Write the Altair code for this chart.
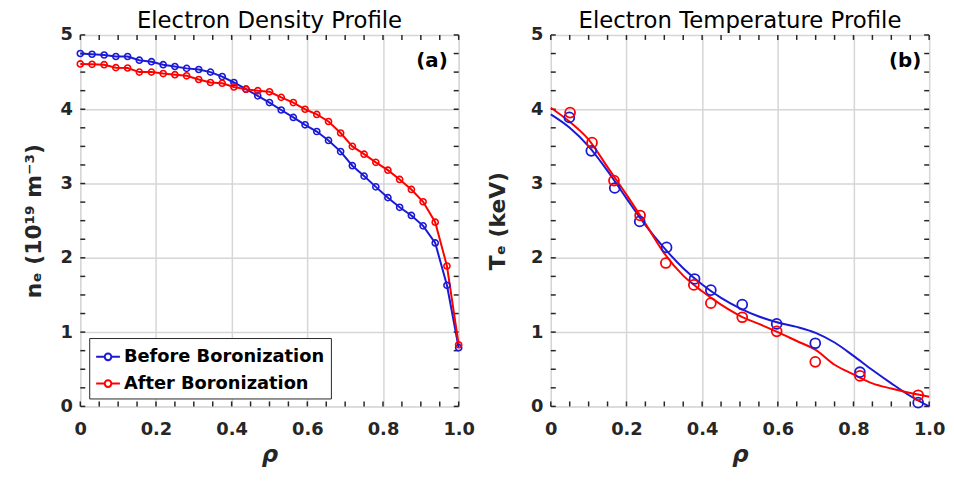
import altair as alt
import pandas as pd

# ---------------- data ----------------
SERIES = ["Before Boronization", "After Boronization"]

# (a) electron density profile, 33 radial points
RHO_N = [0.000, 0.031, 0.063, 0.094, 0.125, 0.156, 0.188, 0.219, 0.250, 0.281,
         0.313, 0.344, 0.375, 0.406, 0.438, 0.469, 0.500, 0.531, 0.563, 0.594,
         0.625, 0.656, 0.688, 0.719, 0.750, 0.781, 0.813, 0.844, 0.875, 0.906,
         0.938, 0.969, 1.000]
NE_BEFORE = [4.75, 4.74, 4.73, 4.71, 4.71, 4.66, 4.64, 4.60, 4.575, 4.55,
             4.535, 4.50, 4.44, 4.36, 4.27, 4.18, 4.09, 3.99, 3.89, 3.79,
             3.70, 3.58, 3.43, 3.24, 3.10, 2.955, 2.81, 2.68, 2.57, 2.43,
             2.20, 1.63, 0.79]
NE_AFTER = [4.61, 4.605, 4.60, 4.56, 4.555, 4.50, 4.50, 4.48, 4.465, 4.45,
            4.40, 4.36, 4.35, 4.30, 4.27, 4.25, 4.235, 4.16, 4.09, 4.00,
            3.93, 3.835, 3.68, 3.50, 3.395, 3.285, 3.18, 3.055, 2.92, 2.755,
            2.48, 1.89, 0.83]

# (b) electron temperature: measured points
RHO_T_BEFORE = [0.049, 0.107, 0.169, 0.235, 0.306, 0.380, 0.423, 0.506, 0.597, 0.699, 0.817, 0.971]
TE_BEFORE = [3.89, 3.44, 2.94, 2.49, 2.14, 1.715, 1.565, 1.37, 1.11, 0.85, 0.46, 0.05]
RHO_T_AFTER = [0.051, 0.109, 0.167, 0.236, 0.304, 0.378, 0.423, 0.506, 0.597, 0.699, 0.817, 0.971]
TE_AFTER = [3.955, 3.55, 3.04, 2.57, 1.93, 1.635, 1.39, 1.20, 1.01, 0.60, 0.41, 0.15]

# (b) fitted curves
RHO_FIT = [0.00, 0.05, 0.10, 0.15, 0.20, 0.25, 0.30, 0.35, 0.40, 0.45, 0.50,
           0.55, 0.60, 0.65, 0.70, 0.75, 0.80, 0.85, 0.90, 0.95, 1.00]
FIT_BEFORE = [3.93, 3.75, 3.50, 3.17, 2.80, 2.44, 2.13, 1.86, 1.64, 1.46, 1.32,
              1.21, 1.13, 1.07, 0.99, 0.86, 0.68, 0.49, 0.31, 0.14, 0.00]
FIT_AFTER = [4.02, 3.83, 3.59, 3.22, 2.85, 2.46, 2.06, 1.76, 1.55, 1.37, 1.22,
             1.11, 1.00, 0.88, 0.76, 0.56, 0.43, 0.31, 0.24, 0.18, 0.13]

X_LABELS = [0, 0.2, 0.4, 0.6, 0.8, 1.0]
Y_LABELS = [0, 1, 2, 3, 4, 5]
X_MINOR = [0.0, 0.05, 0.1, 0.15, 0.2, 0.25, 0.3, 0.35, 0.4, 0.45, 0.5,
           0.55, 0.6, 0.65, 0.7, 0.75, 0.8, 0.85, 0.9, 0.95, 1.0]
Y_MINOR = [0.0, 0.25, 0.5, 0.75, 1.0, 1.25, 1.5, 1.75, 2.0, 2.25, 2.5, 2.75,
           3.0, 3.25, 3.5, 3.75, 4.0, 4.25, 4.5, 4.75, 5.0]

TITLES = ["Electron Density Profile", "Electron Temperature Profile"]
Y_TITLES = ["nₑ (10¹⁹ m⁻³)", "Tₑ (keV)"]
PANEL_TAGS = ["(a)", "(b)"]

# ---------------- style ----------------
BLUE = "#1a1ad6"
RED = "#ff0000"
FRAME = "#262626"
GRID = "#d6d6d6"
FONT = "DejaVu Sans"
W, H = 382, 375
TICK = 5

color_scale = alt.Scale(domain=SERIES, range=[BLUE, RED])
xscale = alt.Scale(domain=[0, 1], nice=False, zero=False)
yscale = alt.Scale(domain=[0, 5], nice=False)


def make_x():
    return alt.X("x:Q", scale=xscale, title="ρ",
                 axis=alt.Axis(values=X_LABELS, grid=True, gridColor=GRID, gridWidth=1.5,
                               ticks=False, domain=False, labelFlush=False,
                               labelExpr="datum.value == 0 ? '0' : format(datum.value, '.1f')",
                               labelFont=FONT, labelFontSize=18, labelFontWeight="bold",
                               labelColor=FRAME, labelPadding=14,
                               titleFont=FONT, titleFontSize=23, titleFontWeight="bold",
                               titleFontStyle="italic", titleColor=FRAME, titlePadding=6))


def make_y(title, tpad):
    return alt.Y("y:Q", scale=yscale, title=title,
                 axis=alt.Axis(values=Y_LABELS, grid=True, gridColor=GRID, gridWidth=1.5,
                               ticks=False, domain=False, labelFlush=False,
                               labelFont=FONT, labelFontSize=18, labelFontWeight="bold",
                               labelColor=FRAME, labelPadding=8,
                               titleFont=FONT, titleFontSize=22, titleFontWeight="bold",
                               titleColor=FRAME, titlePadding=tpad))


def tick_layers(X, Y):
    tx = pd.DataFrame({"x": X_MINOR})
    ty = pd.DataFrame({"y": Y_MINOR})
    rule = dict(color=FRAME, strokeWidth=1.5)
    return [
        alt.Chart(tx).mark_rule(**rule).encode(x=X, y=alt.value(H), y2=alt.value(H - TICK)),
        alt.Chart(tx).mark_rule(**rule).encode(x=X, y=alt.value(0), y2=alt.value(TICK)),
        alt.Chart(ty).mark_rule(**rule).encode(y=Y, x=alt.value(0), x2=alt.value(TICK)),
        alt.Chart(ty).mark_rule(**rule).encode(y=Y, x=alt.value(W), x2=alt.value(W - TICK)),
    ]


def tag_layer(tag, inset):
    return alt.Chart(pd.DataFrame({"t": [tag]})).mark_text(
        align="right", baseline="middle", font=FONT, fontSize=20, fontWeight="bold",
        color="black").encode(x=alt.value(W - inset), y=alt.value(26), text="t:N")


LEGEND_PATH = ("M-1,0L-0.28,0M0.28,0L1,0"
               "M-0.28,0A0.28,0.28,0,1,1,0.28,0A0.28,0.28,0,1,1,-0.28,0")

# ---------------- panel (a) ----------------
dens = pd.DataFrame({
    "x": RHO_N * 2,
    "y": NE_BEFORE + NE_AFTER,
    "s": [SERIES[0]] * len(RHO_N) + [SERIES[1]] * len(RHO_N),
})
Xa = make_x()
Ya = make_y(Y_TITLES[0], 15)

dens_line = alt.Chart(dens).mark_line(strokeWidth=2).encode(
    x=Xa, y=Ya,
    color=alt.Color("s:N", scale=color_scale, sort=SERIES,
                    legend=alt.Legend(title=None, orient="none", legendX=9, legendY=306,
                                      symbolType=LEGEND_PATH, symbolSize=576,
                                      symbolStrokeWidth=2, symbolFillColor="white",
                                      labelFont=FONT, labelFontSize=18, labelFontWeight="bold",
                                      labelColor="black", labelOffset=3, labelLimit=400,
                                      strokeColor=FRAME, fillColor="white",
                                      padding=6, rowPadding=5)),
)
dens_pts = alt.Chart(dens).mark_point(size=38, strokeWidth=1.6, filled=False, opacity=1).encode(
    x=Xa, y=Ya, color=alt.Color("s:N", scale=color_scale, legend=None))

panel_a = alt.layer(*tick_layers(Xa, Ya), dens_line, dens_pts, tag_layer(PANEL_TAGS[0], 11)).properties(
    width=W, height=H,
    title=alt.TitleParams(TITLES[0], font=FONT, fontSize=23, fontWeight="normal",
                          color="black", offset=-7))

# ---------------- panel (b) ----------------
temp_pts = pd.DataFrame({
    "x": RHO_T_BEFORE + RHO_T_AFTER,
    "y": TE_BEFORE + TE_AFTER,
    "s": [SERIES[0]] * len(RHO_T_BEFORE) + [SERIES[1]] * len(RHO_T_AFTER),
})
temp_fit = pd.DataFrame({
    "x": RHO_FIT * 2,
    "y": FIT_BEFORE + FIT_AFTER,
    "s": [SERIES[0]] * len(RHO_FIT) + [SERIES[1]] * len(RHO_FIT),
})
Xb = make_x()
Yb = make_y(Y_TITLES[1], 21)

fit_line = alt.Chart(temp_fit).mark_line(strokeWidth=2, interpolate="monotone").encode(
    x=Xb, y=Yb, color=alt.Color("s:N", scale=color_scale, legend=None))
meas_pts = alt.Chart(temp_pts).mark_point(size=100, strokeWidth=1.8, filled=False, opacity=1).encode(
    x=Xb, y=Yb, color=alt.Color("s:N", scale=color_scale, legend=None))

panel_b = alt.layer(*tick_layers(Xb, Yb), fit_line, meas_pts, tag_layer(PANEL_TAGS[1], 8)).properties(
    width=W, height=H,
    title=alt.TitleParams(TITLES[1], font=FONT, fontSize=23, fontWeight="normal",
                          color="black", offset=-7))

chart = alt.hconcat(panel_a, panel_b, spacing=93, bounds="flush").resolve_scale(
    color="independent").resolve_legend(color="independent").properties(
    padding={"left": 13, "top": -1, "right": 0, "bottom": -1}
).configure_view(stroke=FRAME, strokeWidth=2).configure(background="white")

chart.save("out.html", embed_options={"renderer": "svg", "actions": False})
